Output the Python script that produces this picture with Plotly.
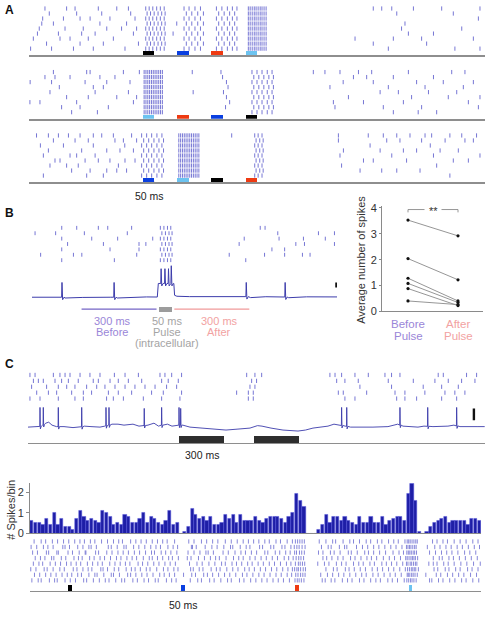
import plotly.graph_objects as go

# ======================= DATA (times in ms) =======================
# ---- Panel A: three raster blocks, 9 trials each (row 0 = bottom trial)
A_marker_starts = [500, 650, 800, 950]
A_marker_width = 50
A1_marker_colors = ["#000000", "#0a3fe0", "#ee3a12", "#6cc3f0"]
A2_marker_colors = ["#6cc3f0", "#ee3a12", "#0a3fe0", "#000000"]
A3_marker_colors = ["#0a3fe0", "#6cc3f0", "#000000", "#ee3a12"]

A1_background = [
    [7, 99, 195, 282, 421, 1576, 1868, 1978],
    [77, 224, 326, 480, 1510, 1744],
    [19, 136, 180, 260, 370, 1430, 1598, 1722, 1949],
    [37, 129, 231, 290, 458, 632, 1664, 1774],
    [45, 158, 238, 341, 406, 472, 1634, 1898],
    [56, 107, 311, 428, 648, 1649],
    [60, 151, 224, 268, 355, 465, 1971],
    [89, 209, 319, 446, 1613, 1861],
    [70, 165, 202, 304, 385, 436, 1510, 1547, 1591, 1686, 1810, 1978],
]
A1_dense = [962, 970, 979, 988, 996, 1005, 1014, 1022, 1031, 1040]
A1_loose_even = [512, 527, 543, 560, 576, 593, 680, 702, 728, 752, 822, 846, 870, 892, 912]
A1_loose_odd = [518, 533, 549, 566, 582, 597, 690, 714, 740, 765, 832, 856, 880, 902]

A2_background = [
    [187, 300, 1598, 1707, 1788],
    [143, 224, 348, 862, 1342, 1554, 1722, 1971],
    [4, 48, 209, 458, 880, 1335, 1467, 1642, 1927],
    [165, 260, 385, 472, 866, 1401, 1678, 1839, 1978],
    [92, 290, 436, 720, 853, 1540, 1620, 1752, 1876],
    [133, 282, 326, 873, 1320, 1576, 1737, 1905],
    [5, 99, 246, 341, 443, 866, 1378, 1510, 1700, 1817, 1949],
    [70, 114, 180, 311, 377, 849, 1423, 1481, 1598, 1774],
    [107, 253, 268, 414, 484, 716, 842, 1247, 1298, 1364, 1445, 1503, 1664, 1854, 1912],
]
A2_dense = [505, 513, 521, 529, 537, 545, 553, 561, 569, 577, 585]
A2_loose_even = [978, 1000, 1022, 1045, 1066]
A2_loose_odd = [986, 1008, 1030, 1052, 1072]

A3_background = [
    [63, 253, 326, 1846],
    [187, 268, 341, 385, 428, 1452, 1547, 1613, 1715],
    [92, 165, 216, 392, 1371, 1788],
    [114, 136, 246, 304, 355, 421, 465, 1467, 1510, 1656, 1861, 1927],
    [63, 180, 209, 290, 1364, 1591, 1774, 1978],
    [85, 231, 341, 399, 458, 1379, 1540, 1642, 1700, 1803, 1883],
    [50, 151, 282, 420, 1496, 1760],
    [107, 202, 260, 377, 414, 472, 1357, 1569, 1627, 1722, 1825, 1912, 1949],
    [33, 85, 129, 173, 224, 282, 319, 370, 450, 889, 1357, 1488, 1554, 1613, 1671,
     1737, 1766, 1846, 1898, 1963],
]
A3_dense = [657, 665, 673, 681, 689, 697, 705, 713, 721, 729, 737, 745]
A3_loose_even = [494, 516, 538, 561, 583, 990, 1005, 1022]
A3_loose_odd = [503, 525, 548, 570, 590, 996, 1012, 1027]

# ---- Panel B (left): raster (7 trials, top to bottom) and intracellular trace
B_rows = [
    [117, 176, 261, 298, 392, 898, 917],
    [12, 93, 206, 375, 967, 1127, 1190],
    [117, 235, 337, 475, 835, 972, 1068, 1154],
    [140, 281, 421, 448, 815, 1038, 1072, 1190],
    [117, 307, 421, 944, 994],
    [34, 163, 196, 412, 776, 915, 994, 1064, 1094],
    [117, 324, 841],
]
B_burst_even = [505, 519, 533, 546]
B_burst_odd = [511, 525, 539, 551]
B_base_t = [0, 50, 110, 130, 200, 260, 310, 335, 400, 450, 493, 497, 558, 561, 570,
            620, 700, 780, 835, 860, 920, 980, 1010, 1080, 1150, 1200]
B_base_v = [2, 1.8, 2, 1.2, 1.8, 2.3, 2, 1.2, 2, 2.3, 2.2, 16, 16, 4, 3,
            2.6, 2.8, 2.4, 2.6, 1.6, 2.5, 2.2, 1.5, 2.4, 2.2, 2.3]
B_spike_t = [118, 323, 508, 523, 537, 548, 843, 996]
B_spike_base = [2, 2, 16, 16, 16, 16, 2.6, 2.2]
B_spike_peak = [17, 17, 31, 31, 31, 34, 17, 17]
B_before = [195, 490]
B_pulse = [500, 550]
B_after = [560, 855]
B_scale_bar = [1197, 12, 17]  # x, y0, y1

# ---- Panel B (right): average number of spikes
B_before_vals = [3.53, 2.04, 1.28, 1.08, 0.88, 0.40]
B_after_vals = [2.92, 1.22, 0.40, 0.34, 0.22, 0.26]

# ---- Panel C (top): raster (5 trials, top to bottom) and trace
C_rows = [
    [13, 47, 169, 213, 247, 280, 347, 413, 480, 576, 647, 736, 880, 913, 958, 1024,
     1458, 1513, 1558, 2013, 2047, 2091, 2180, 2269, 2380, 2424, 2480, 2735, 2769, 2924, 2991],
    [36, 69, 102, 180, 224, 269, 335, 435, 469, 547, 602, 669, 758, 891, 935, 1002,
     1491, 1524, 2058, 2113, 2202, 2402, 2569, 2713, 2802, 2891, 2980],
    [24, 124, 202, 258, 313, 391, 458, 513, 580, 647, 713, 780, 847, 924, 991,
     1480, 1513, 2213, 2424, 2635, 2758, 2869],
    [58, 136, 191, 291, 369, 424, 536, 602, 691, 824, 902, 1024, 1391, 1469, 1502,
     2069, 2102, 2258, 2447, 2513, 2646, 2780, 2846, 2913],
    [13, 80, 202, 313, 369, 524, 569, 636, 769, 891, 1013, 1469, 1502,
     2113, 2180, 2458, 2513, 2591, 2758, 2858],
]
C_base_t = [0, 60, 72, 118, 138, 160, 190, 240, 300, 345, 375, 420, 480, 512, 560, 600,
            640, 700, 740, 800, 840, 870, 930, 960, 990, 1032, 1080, 1150, 1250, 1320,
            1400, 1480, 1530, 1560, 1620, 1700, 1800, 1850, 1900, 1960, 2000, 2040, 2075,
            2150, 2300, 2400, 2440, 2465, 2500, 2600, 2640, 2700, 2800, 2840, 2880, 3000, 3045]
C_base_v = [0, 0.5, 0, 4, 5, 2, 0.5, 0.5, -0.5, 0, 1, 0.5, 0, 1, 3, 3,
            2, 3, 1, 2, 4, 1, 3, 1, 2, 2, 0, -1, -2.5, -3,
            -2, -1, 1.5, 1, -1, -3, -4, -3, -1, 0, 1, 3, 2,
            0, 0, 0.5, 2, 3, 1, 0, 1, 0.5, 1, 2, 0.5, 0.5, 0.5]
C_spike_t = [80, 102, 202, 358, 520, 540, 775, 891, 1007, 1018, 2091, 2125, 2480, 2665, 2858]
C_spike_base = [0.7, 2.6, 0.5, 0.4, 1.4, 2.2, 1.6, 2, 2, 2, 1.6, 0.7, 2, 0.8, 1.2]
C_spike_peak = [20, 20, 20, 20, 20, 20, 19, 20, 20, 19, 20, 20, 20, 20, 20]
C_pulse_starts = [1010, 1510]
C_pulse_width = 300
C_scale_bar = [2973, 7, 19]

# ---- Panel C (bottom): PSTH (50 ms bins) and raster (8 trials)
C_bin_ms = 50
C_hist = [
    0.6, 0.5, 0.5, 0.4, 0.7, 0.4, 1.0, 0.4, 0.7, 0.3, 0.3, 0.2, 0.7, 1.1, 0.8, 0.6, 0.7, 0.6, 0.5, 1.1,
    1.0, 0.8, 0.4, 0.5, 0.4, 0.9, 0.8, 0.5, 0.5, 0.7, 1.0, 0.5, 0.8, 0.7, 0.5, 0.4, 0.6, 1.1, 0.4, 0.5,
    0,
    0.1, 0.3, 1.2, 0.9, 0.7, 0.8, 0.6, 0.8, 0.4, 0.4, 0.5, 0.9, 0.7, 0.9, 0.5, 0.9, 0.6, 0.6, 0.6, 0.8,
    0.6, 0.5, 0.7, 0.8, 0.8, 0.8, 0.7, 0.5, 0.8, 1.0, 1.9, 1.6, 1.3,
    0, 0, 0,
    0.2, 0.4, 0.9, 0.5, 0.8, 0.8, 0.6, 0.8, 0.6, 0.5, 0.4, 0.8, 0.5, 0.5, 0.8, 0.5, 0.5, 0.8, 0.4, 0.6,
    0.7, 0.8, 0.8, 0.6, 1.9, 2.4, 1.6, 0.1,
    0,
    0.1, 0.3, 0.5, 0.6, 0.7, 0.8, 0.5, 0.6, 0.6, 0.6, 0.6, 0.4, 0.7, 0.7, 0.6,
]
C_hist_ticks = [0, 1, 2]
C_low_rows = [
    [25, 110, 150, 260, 330, 365, 470, 540, 610, 720, 760, 850, 930, 1010, 1060, 1150, 1230, 1270, 1380, 1440,
     1530, 1590, 1680, 1720, 1830, 1900, 1960, 2150, 2250, 2300, 2410, 2470, 2560, 2650, 2700, 2810, 2870,
     2960, 3030, 3110, 3180, 3260, 3330, 3400, 3480, 3555, 3585, 3610, 3640, 3675, 3920, 3960, 4040, 4090,
     4190, 4260, 4320, 4420, 4480, 4570, 4640, 4700, 4800, 4860, 4930, 5020, 5055, 5080, 5105, 5125, 5150,
     5180, 5360, 5390, 5480, 5540, 5630, 5700, 5790, 5850, 5940, 6020],
    [60, 130, 210, 280, 350, 430, 500, 560, 640, 690, 790, 870, 900, 990, 1090, 1120, 1200, 1310, 1350, 1420,
     1500, 1570, 1650, 1740, 1800, 1870, 1940, 2060, 2170, 2220, 2330, 2380, 2450, 2530, 2610, 2680, 2760,
     2850, 2910, 2990, 3070, 3140, 3220, 3300, 3370, 3450, 3510, 3565, 3595, 3630, 3660, 3690, 3900, 3990,
     4060, 4140, 4210, 4290, 4370, 4450, 4510, 4600, 4670, 4750, 4830, 4900, 4980, 5060, 5075, 5095, 5120,
     5140, 5165, 5195, 5310, 5450, 5510, 5600, 5670, 5750, 5820, 5910, 5990],
    [10, 80, 190, 230, 310, 400, 460, 580, 630, 710, 780, 830, 950, 980, 1040, 1130, 1190, 1290, 1360, 1410,
     1480, 1560, 1610, 1700, 1790, 1850, 1930, 1985, 2155, 2190, 2270, 2320, 2430, 2500, 2550, 2640, 2720,
     2790, 2880, 2940, 3010, 3090, 3160, 3240, 3310, 3390, 3460, 3520, 3550, 3580, 3600, 3630, 3665, 3695,
     3970, 4070, 4120, 4230, 4280, 4350, 4430, 4500, 4590, 4660, 4730, 4810, 4880, 4960, 5035, 5065, 5090,
     5115, 5135, 5155, 5175, 5210, 5420, 5470, 5570, 5620, 5710, 5770, 5870, 5930, 6010],
    [45, 120, 170, 270, 340, 410, 490, 550, 620, 680, 770, 840, 910, 970, 1070, 1140, 1210, 1280, 1340, 1450,
     1510, 1580, 1660, 1730, 1810, 1880, 1950, 2140, 2240, 2310, 2400, 2480, 2570, 2620, 2710, 2770, 2840,
     2920, 2980, 3060, 3130, 3210, 3280, 3360, 3440, 3500, 3560, 3600, 3625, 3655, 3685, 3860, 3950, 4010,
     4110, 4180, 4240, 4340, 4410, 4470, 4560, 4620, 4720, 4780, 4850, 4920, 5000, 5050, 5070, 5100, 5120,
     5145, 5170, 5190, 5350, 5410, 5460, 5550, 5610, 5690, 5780, 5860, 5950, 6040],
    [70, 140, 200, 290, 320, 420, 480, 590, 650, 700, 800, 860, 940, 1000, 1080, 1160, 1220, 1300, 1370, 1430,
     1520, 1600, 1640, 1710, 1780, 1860, 1910, 1990, 2110, 2160, 2260, 2340, 2420, 2490, 2540, 2630, 2730,
     2800, 2860, 2950, 3020, 3100, 3170, 3250, 3320, 3410, 3470, 3530, 3570, 3605, 3635, 3670, 3930, 3980,
     4050, 4130, 4200, 4300, 4360, 4440, 4520, 4580, 4650, 4740, 4820, 4890, 4970, 5040, 5060, 5085, 5110,
     5130, 5150, 5170, 5200, 5410, 5490, 5530, 5620, 5680, 5760, 5840, 5920, 6000],
    [35, 100, 220, 250, 360, 380, 510, 570, 660, 740, 750, 880, 920, 1030, 1100, 1180, 1250, 1320, 1400, 1470,
     1550, 1630, 1670, 1760, 1820, 1890, 1970, 2120, 2200, 2280, 2360, 2390, 2460, 2590, 2660, 2750, 2830,
     2890, 2970, 3040, 3150, 3190, 3290, 3350, 3430, 3490, 3550, 3575, 3615, 3645, 3680, 3870, 3930, 4030,
     4080, 4160, 4270, 4310, 4390, 4490, 4540, 4610, 4690, 4770, 4870, 4950, 5010, 5055, 5075, 5095, 5115,
     5140, 5160, 5185, 5360, 5440, 5520, 5590, 5660, 5740, 5830, 5900, 5980],
    [15, 90, 180, 240, 310, 440, 470, 530, 640, 710, 790, 820, 890, 1050, 1090, 1170, 1260, 1290, 1390, 1460,
     1540, 1620, 1690, 1750, 1850, 1920, 1980, 2165, 2180, 2230, 2350, 2440, 2510, 2600, 2690, 2720, 2820,
     2900, 2950, 3080, 3120, 3230, 3270, 3380, 3420, 3500, 3545, 3580, 3610, 3650, 3690, 3910, 4000, 4040,
     4150, 4220, 4250, 4380, 4460, 4530, 4610, 4680, 4760, 4840, 4910, 4990, 5050, 5070, 5090, 5110, 5135,
     5160, 5180, 5330, 5430, 5500, 5580, 5650, 5730, 5800, 5880, 5960, 6030],
    [55, 150, 210, 300, 370, 450, 520, 600, 670, 730, 810, 870, 960, 1040, 1120, 1190, 1240, 1350, 1420, 1490,
     1560, 1640, 1710, 1780, 1840, 1940, 2130, 2200, 2300, 2370, 2450, 2520, 2620, 2700, 2780, 2860, 2930,
     3000, 3070, 3150, 3210, 3300, 3360, 3450, 3520, 3560, 3590, 3620, 3650, 3680, 3880, 3970, 4060, 4100,
     4200, 4290, 4340, 4420, 4510, 4570, 4660, 4720, 4810, 4880, 4940, 5030, 5060, 5080, 5100, 5125, 5150,
     5175, 5195, 5400, 5460, 5540, 5600, 5690, 5770, 5850, 5940, 6010],
]
C_low_marker_starts = [510, 2025, 3555, 5080]
C_low_marker_colors = ["#000000", "#0a3fe0", "#ee3a12", "#6cc3f0"]

# ======================= STYLE / LAYOUT =======================
W, H = 490, 624
FONT = "Liberation Sans, Arial, sans-serif"
SPIKE = "#6767cf"
TRACE = "#3c3cab"
BASE_GRAY = "#8e8e8e"
PURPLE_TXT = "#9a86d8"
PURPLE_LINE = "#7565c6"
PINK_TXT = "#f2a2a2"
PINK_LINE = "#f09a9a"
GRAY_TXT = "#a4a4a4"

fig = go.Figure()
layout = dict(width=W, height=H, margin=dict(l=0, r=0, t=0, b=0),
              paper_bgcolor="white", plot_bgcolor="rgba(0,0,0,0)", showlegend=False,
              font=dict(family=FONT, size=11, color="#222"))
annotations = []


def add_axes(n, xpx, xrng, ypy, yrng, xopts=None, yopts=None):
    xa = dict(domain=[xpx[0] / W, xpx[1] / W], range=xrng, anchor="y%d" % n,
              showgrid=False, zeroline=False, showticklabels=False, ticks="",
              showline=False, fixedrange=True)
    ya = dict(domain=[1 - ypy[1] / H, 1 - ypy[0] / H], range=yrng, anchor="x%d" % n,
              showgrid=False, zeroline=False, showticklabels=False, ticks="",
              showline=False, fixedrange=True)
    if xopts:
        xa.update(xopts)
    if yopts:
        ya.update(yopts)
    layout["xaxis%s" % ("" if n == 1 else n)] = xa
    layout["yaxis%s" % ("" if n == 1 else n)] = ya


def ref(n):
    return dict(xaxis="x%s" % ("" if n == 1 else n), yaxis="y%s" % ("" if n == 1 else n))


def raster(n, rows, y_of_row, half, color=SPIKE, width=0.9):
    xs, ys = [], []
    for i, row in enumerate(rows):
        yc = y_of_row(i)
        for t in row:
            xs += [t, t, None]
            ys += [yc - half, yc + half, None]
    fig.add_trace(go.Scatter(x=xs, y=ys, mode="lines", line=dict(color=color, width=width),
                             hoverinfo="skip", cliponaxis=False, **ref(n)))


def trace_line(n, base_t, base_v, sp_t, sp_base, sp_peak, color=TRACE, width=1.0):
    pts = list(zip(base_t, base_v))
    for t, b, p in zip(sp_t, sp_base, sp_peak):
        pts += [(t - 1.5, b), (t, p), (t + 2.5, b - 2.5), (t + 8, b)]
    pts.sort(key=lambda q: q[0])
    fig.add_trace(go.Scatter(x=[q[0] for q in pts], y=[q[1] for q in pts], mode="lines",
                             line=dict(color=color, width=width), hoverinfo="skip",
                             cliponaxis=False, **ref(n)))


def markers(n, starts, width, colors, base, height):
    fig.add_trace(go.Bar(x=[s + width / 2 for s in starts], y=[height] * len(starts),
                         base=[base] * len(starts), width=[width] * len(starts),
                         marker=dict(color=colors, line=dict(width=0)), hoverinfo="skip",
                         **ref(n)))


def seg(n, xs, ys, color, width, dash=None):
    fig.add_trace(go.Scatter(x=xs, y=ys, mode="lines", line=dict(color=color, width=width, dash=dash),
                             hoverinfo="skip", cliponaxis=False, **ref(n)))


def ann(px, py, text, size=11, color="#222", angle=0, bold=False, xanchor="center"):
    annotations.append(dict(x=px / W, y=1 - py / H, xref="paper", yref="paper",
                            text=("<b>%s</b>" % text) if bold else text,
                            showarrow=False, textangle=angle, xanchor=xanchor, yanchor="middle",
                            font=dict(family=FONT, size=size, color=color)))


# ---------------- Panel A ----------------
A_blocks = [
    (1, 52.0, A1_background, A1_dense, A1_loose_even, A1_loose_odd, A1_marker_colors),
    (2, 116.6, A2_background, A2_dense, A2_loose_even, A2_loose_odd, A2_marker_colors),
    (3, 181.0, A3_background, A3_dense, A3_loose_even, A3_loose_odd, A3_marker_colors),
]
for n, base_py, bg, dense, le, lo, cols in A_blocks:
    add_axes(n, (29, 485), [0, 2000], (base_py - 52, base_py), [0, 10.2],
             xopts=dict(showline=True, linecolor=BASE_GRAY, linewidth=1.6))
    rows = [bg[k] + dense + (le if k % 2 == 0 else lo) for k in range(len(bg))]
    raster(n, rows, lambda k: 1.3 + k, 0.42)
    markers(n, A_marker_starts, A_marker_width, cols, 0.05, 0.8)

# 50 ms connector under block 3 first marker
s0 = A_marker_starts[0]
seg(3, [s0, 465, None, s0 + A_marker_width, 588], [0, -1.55, None, 0, -1.55], "#777777", 0.8)
ann(149, 195, "50 ms", size=10.5)

# ---------------- Panel B left ----------------
add_axes(4, (32, 337), [0, 1200], (222, 268), [0, 8.4])
B_all_rows = [B_rows[i] + (B_burst_even if i % 2 == 0 else B_burst_odd) for i in range(len(B_rows))]
raster(4, B_all_rows, lambda i: 7.4 - i, 0.36)

add_axes(5, (32, 337), [0, 1200], (260, 315), [-15, 40])
trace_line(5, B_base_t, B_base_v, B_spike_t, B_spike_base, B_spike_peak)
seg(5, B_before, [-10, -10], PURPLE_LINE, 1.3)
seg(5, B_after, [-10, -10], PINK_LINE, 1.3)
fig.add_trace(go.Bar(x=[(B_pulse[0] + B_pulse[1]) / 2], y=[5], base=[-12.5],
                     width=[B_pulse[1] - B_pulse[0]], marker=dict(color="#9c9c9c", line=dict(width=0)),
                     hoverinfo="skip", **ref(5)))
seg(5, [B_scale_bar[0], B_scale_bar[0]], [B_scale_bar[1], B_scale_bar[2]], "#111111", 2)

ann(112, 322, "300 ms", color=PURPLE_TXT)
ann(112, 333, "Before", color=PURPLE_TXT)
ann(167, 322, "50 ms", color=GRAY_TXT)
ann(167, 333, "Pulse", color=GRAY_TXT)
ann(167, 345, "(intracellular)", color=GRAY_TXT)
ann(219, 322, "300 ms", color=PINK_TXT)
ann(219, 333, "After", color=PINK_TXT)

# ---------------- Panel B right ----------------
add_axes(6, (382, 483), [-0.52, 1.5], (205.2, 312.3), [0, 4.08],
         xopts=dict(showline=True, linecolor="#8a8a8a", linewidth=1),
         yopts=dict(showline=True, linecolor="#8a8a8a", linewidth=1, ticks="outside", ticklen=2,
                    tickcolor="#8a8a8a", tickvals=[0, 1, 2, 3, 4], showticklabels=True,
                    tickfont=dict(family=FONT, size=11, color="#333")))
lx, ly = [], []
for b, a in zip(B_before_vals, B_after_vals):
    lx += [0, 1, None]
    ly += [b, a, None]
fig.add_trace(go.Scatter(x=lx, y=ly, mode="lines", line=dict(color="#8a8a8a", width=0.9),
                         hoverinfo="skip", **ref(6)))
fig.add_trace(go.Scatter(x=[0] * len(B_before_vals) + [1] * len(B_after_vals),
                         y=B_before_vals + B_after_vals, mode="markers",
                         marker=dict(color="#111111", size=3.2), hoverinfo="skip",
                         cliponaxis=False, **ref(6)))
seg(6, [0, 0, 0.33, None, 0.67, 1, 1], [3.83, 3.94, 3.94, None, 3.94, 3.94, 3.83], "#8a8a8a", 0.9)
annotations.append(dict(x=0.5, y=3.9, xref="x6", yref="y6", text="**", showarrow=False,
                        font=dict(family=FONT, size=11, color="#333"), yanchor="middle"))
ann(361, 260, "Average number of spikes", size=11, color="#333", angle=-90)
ann(408, 325, "Before", size=11.5, color=PURPLE_TXT)
ann(408, 337, "Pulse", size=11.5, color=PURPLE_TXT)
ann(458, 325, "After", size=11.5, color=PINK_TXT)
ann(458, 337, "Pulse", size=11.5, color=PINK_TXT)

# ---------------- Panel C top ----------------
add_axes(7, (28, 485), [0, 3047], (374, 404), [0, 5])
raster(7, C_rows, lambda i: 4.5 - i, 0.36)

add_axes(8, (28, 485), [0, 3047], (400, 446.5), [-16.5, 30],
         xopts=dict(showline=True, linecolor=BASE_GRAY, linewidth=1.4))
trace_line(8, C_base_t, C_base_v, C_spike_t, C_spike_base, C_spike_peak, width=0.9)
fig.add_trace(go.Bar(x=[s + C_pulse_width / 2 for s in C_pulse_starts], y=[7.5] * len(C_pulse_starts),
                     base=[-16] * len(C_pulse_starts), width=[C_pulse_width] * len(C_pulse_starts),
                     marker=dict(color="#2e2e2e", line=dict(width=0)), hoverinfo="skip", **ref(8)))
seg(8, [C_pulse_starts[0], C_pulse_starts[0] + C_pulse_width], [-18.3, -18.3], "#222222", 1)
seg(8, [C_scale_bar[0], C_scale_bar[0]], [C_scale_bar[1], C_scale_bar[2]], "#111111", 2.4)
ann(202, 458, "300 ms", size=10.5)

# ---------------- Panel C bottom: PSTH ----------------
n_bins = len(C_hist)
add_axes(9, (30, 481), [0, n_bins * C_bin_ms], (486.5, 538), [0, 2.45],
         xopts=dict(showline=True, linecolor="#8a8a8a", linewidth=1),
         yopts=dict(showline=True, linecolor="#8a8a8a", linewidth=1, ticks="outside", ticklen=3,
                    tickcolor="#8a8a8a", tickvals=C_hist_ticks, showticklabels=True,
                    tickfont=dict(family=FONT, size=11, color="#333")))
fig.add_trace(go.Bar(x=[(i + 0.5) * C_bin_ms for i in range(n_bins)], y=C_hist,
                     width=C_bin_ms * 0.84,
                     marker=dict(color="#1e1ea6", line=dict(color="#5050d8", width=0.5)),
                     hoverinfo="skip", **ref(9)))
ann(11, 514, "# Spikes/bin", size=11, color="#333", angle=-90)

# ---------------- Panel C bottom: raster ----------------
add_axes(10, (30, 481), [0, n_bins * C_bin_ms], (540, 596.5), [0, 10],
         xopts=dict(showline=True, linecolor=BASE_GRAY, linewidth=1.4))
raster(10, C_low_rows, lambda k: 1.9 + k, 0.38, width=0.8)
markers(10, C_low_marker_starts, C_bin_ms, C_low_marker_colors, 0.0, 1.0)
m1 = C_low_marker_starts[1]
seg(10, [m1, 1877, None, m1 + C_bin_ms, 2240], [0, -1.7, None, 0, -1.7], "#777777", 0.8)
ann(183, 611, "50 ms", size=10.5)

# ---------------- Panel letters ----------------
ann(9, 6, "A", size=12, bold=True, color="#111")
ann(9, 212, "B", size=12, bold=True, color="#111")
ann(9, 366, "C", size=12, bold=True, color="#111")

layout["annotations"] = annotations
layout["bargap"] = 0
fig.update_layout(**layout)
fig.write_html("out.html")
